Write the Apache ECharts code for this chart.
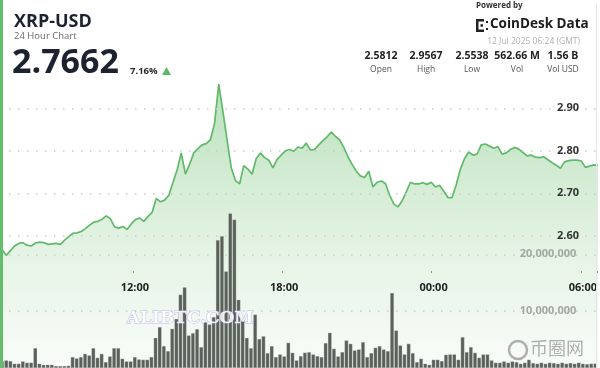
<!DOCTYPE html>
<html>
<head>
<meta charset="utf-8">
<script src="https://cdn.jsdelivr.net/npm/echarts@6/dist/echarts.min.js"></script>
<style>
html,body{margin:0;padding:0;background:#fff;}
#chart{width:600px;height:368px;}
</style>
</head>
<body>
<div id="chart"></div>
<script>
// ---- data ----
var categories = [];
(function(){ var h=6,m=40; for(var i=0;i<144;i++){ categories.push((h<10?'0':'')+h+':'+(m<10?'0':'')+m); m+=10; if(m>=60){m-=60;h=(h+1)%24;} } })();
var timeTicks = ['12:00','18:00','00:00','06:00'];
var priceTicks = ['2.60','2.70','2.80','2.90'];
var volumeTicks = ['10,000,000','20,000,000'];

var price = [
2.567,2.554,2.565,2.576,2.582,2.584,2.578,2.576,2.583,2.585,
2.584,2.580,2.581,2.582,2.580,2.590,2.598,2.606,2.607,2.610,
2.617,2.625,2.632,2.634,2.639,2.647,2.640,2.621,2.618,2.622,
2.615,2.628,2.638,2.642,2.634,2.645,2.655,2.688,2.680,2.684,
2.695,2.725,2.755,2.795,2.745,2.768,2.795,2.805,2.814,2.817,
2.826,2.865,2.957,2.893,2.825,2.760,2.730,2.722,2.765,2.757,
2.745,2.782,2.795,2.784,2.778,2.760,2.780,2.790,2.800,2.803,
2.799,2.809,2.806,2.818,2.802,2.803,2.814,2.824,2.833,2.844,
2.834,2.826,2.808,2.786,2.768,2.752,2.741,2.737,2.752,2.715,
2.726,2.729,2.723,2.696,2.675,2.668,2.682,2.703,2.726,2.722,
2.722,2.725,2.721,2.726,2.715,2.719,2.705,2.690,2.690,2.720,
2.757,2.782,2.797,2.790,2.792,2.814,2.816,2.811,2.806,2.810,
2.792,2.795,2.803,2.808,2.804,2.796,2.788,2.790,2.785,2.784,
2.786,2.779,2.772,2.766,2.759,2.774,2.777,2.778,2.778,2.776,
2.761,2.764,2.767,2.766
];

// volume in millions
var volumeM = [
1.23,1.35,1.23,0.76,0.76,1.17,0.94,0.94,3.5,0.76,0.58,0.58,0.58,0.35,0.35,0.35,0.41,1.93,1.7,1.93,2.5,2.22,3.5,1.81,2.5,1.05,2.05,3.5,3.5,1.64,1.17,1.17,1.93,1.52,1.46,1.46,
1.93,5.3,7.2,3.86,2.98,6.9,8.65,12.9,14.2,5.73,6.14,6.84,3.68,8.07,7.66,8.95,22.5,23.2,17.0,27.2,26.1,12.0,8.95,5.3,3.5,9.4,5.1,5.6,2.63,3.86,1.93,2.4,2.05,4.44,2.69,1.35,
2.1,2.7,2.8,2.4,2.1,1.93,4.39,6.2,3.4,2.05,2.8,4.85,4.27,3.1,3.27,4.56,1.93,2.63,3.57,3.86,3.27,2.98,13.2,6.6,3.98,2.4,4.27,2.63,1.05,1.64,0.76,0.58,1.46,1.46,1.23,2.34,
2.4,2.4,1.46,5.44,2.8,3.68,2.69,1.81,2.4,2.4,1.35,0.94,0.94,1.17,0.94,1.17,1.05,0.76,0.94,1.46,0.88,0.76,0.94,0.76,0.94,0.88,0.76,0.94,0.76,0.88,0.76,0.94,0.76,0.7,0.76,0.8
];
var volume = volumeM.map(function(v){ return Math.round(v*1e6); });

var header = { pair:'XRP-USD', sub:'24 Hour Chart', last:'2.7662', change:'7.16%' };
var statValues = ['2.5812','2.9567','2.5538','562.66 M','1.56 B'];
var statNames = ['Open','High','Low','Vol','Vol USD'];
var stamp = '12 Jul 2025 06:24 (GMT)';

// ---- chart ----
var FONT = '"Open Sans", "Noto Sans", sans-serif';
var chart = echarts.init(document.getElementById('chart'), null, {renderer:'canvas'});
var gridC = '#c9cdc9';

var statX = [381, 426, 472, 517, 563];
var graphics = [
  {type:'rect', left:0, top:0, shape:{width:3, height:368}, style:{fill:'#63bd6b'}, z:100},
  {type:'rect', left:596, top:4, shape:{width:1, height:364}, style:{fill:'#e6e6e6'}, z:100},
  {type:'text', left:14, top:13, style:{text:header.pair, font:'bold 18px '+FONT, fill:'#1c2230'}, z:100},
  {type:'text', left:14, top:31, style:{text:header.sub, font:'9.5px '+FONT, fill:'#6a6a6a'}, z:100},
  {type:'text', left:12, top:46, style:{text:header.last, font:'bold 34px '+FONT, fill:'#1c2230'}, z:100},
  {type:'text', left:130, top:66, style:{text:header.change, font:'bold 9.5px '+FONT, fill:'#2a2a2a'}, z:100},
  {type:'polygon', shape:{points:[[162,75],[171,75],[166.5,67]]}, style:{fill:'#5cb862'}, z:100},
  {type:'text', left:476, top:2, style:{text:'Powered by', font:'bold 8px '+FONT, fill:'#333'}, z:100},
  {type:'rect', left:476, top:19, shape:{width:2.5, height:13}, style:{fill:'#222'}, z:100},
  {type:'rect', left:476, top:19, shape:{width:8, height:2.5}, style:{fill:'#222'}, z:100},
  {type:'rect', left:476, top:29.5, shape:{width:8, height:2.5}, style:{fill:'#222'}, z:100},
  {type:'rect', left:480.5, top:24.2, shape:{width:2.5, height:2.5}, style:{fill:'#222'}, z:100},
  {type:'rect', left:486, top:21, shape:{width:2, height:2}, style:{fill:'#222'}, z:100},
  {type:'rect', left:486, top:28, shape:{width:2, height:2}, style:{fill:'#222'}, z:100},
  {type:'text', left:490, top:17, style:{text:'CoinDesk Data', font:'bold 13.5px '+FONT, fill:'#1c1c1c'}, z:100},
  {type:'text', right:20, top:37, style:{text:stamp, font:'8.5px '+FONT, fill:'#b0b0b0', align:'right'}, z:100}
];
for (var k=0;k<statValues.length;k++){
  graphics.push({type:'text', x:statX[k], y:51, style:{text:statValues[k], font:'bold 10.5px '+FONT, fill:'#222', align:'center'}, z:100});
  graphics.push({type:'text', x:statX[k], y:65, style:{text:statNames[k], font:'8.5px '+FONT, fill:'#555', align:'center'}, z:100});
}
graphics.push({type:'text', x:190, y:310, style:{text:'ALIBTC.COM', font:'bold 17px "DejaVu Serif", serif', fill:'rgba(255,255,255,0.85)', stroke:'rgba(190,185,230,0.9)', lineWidth:1, align:'center'}, z:50});
graphics.push({type:'text', x:557, y:339, style:{text:'币圈网', font:'18px "Noto Sans CJK SC", sans-serif', fill:'rgba(150,150,150,0.75)', align:'center'}, z:50});
graphics.push({type:'circle', shape:{cx:518, cy:350, r:9}, style:{fill:'none', stroke:'rgba(150,150,150,0.75)', lineWidth:2.5}, z:50});

var option = {
  animation:false,
  backgroundColor:'#ffffff',
  graphic: graphics,
  grid:[
    {left:0, width:604.8, top:65.8, bottom:4.7},
    {left:0, width:604.8, top:140.6, bottom:-1}
  ],
  xAxis:[
    {gridIndex:0, type:'category', data:categories, boundaryGap:true, show:false},
    {gridIndex:1, type:'category', data:categories, boundaryGap:true, offset:-97, z:5,
     axisLine:{show:false},
     axisTick:{show:true, length:2, lineStyle:{color:'#999', width:1},
       interval:function(i, v){ return timeTicks.indexOf(v)>=0; }},
     axisLabel:{margin:11, fontFamily:FONT, fontSize:11, fontWeight:'bold', color:'#222',
       interval:function(i, v){ return timeTicks.indexOf(v)>=0; }},
     splitLine:{show:false}}
  ],
  yAxis:[
    {gridIndex:0, type:'value', position:'right', min:2.3, max:3.0, interval:0.1, z:5,
     axisLine:{show:false}, axisTick:{show:false},
     axisLabel:{inside:true, margin:21, fontFamily:FONT, fontSize:11, fontWeight:'bold', color:'#333',
       formatter:function(v){ var s=v.toFixed(2); return priceTicks.indexOf(s)>=0 ? s : ''; }},
     splitLine:{show:true, lineStyle:{type:[1.5,7.5], width:1.5,
       color:['rgba(0,0,0,0)','rgba(0,0,0,0)','rgba(0,0,0,0)',gridC,gridC,gridC,gridC,'rgba(0,0,0,0)']}}},
    {gridIndex:1, type:'value', position:'right', min:0, max:40000000, interval:10000000, z:5,
     axisLine:{show:false}, axisTick:{show:false},
     axisLabel:{inside:true, margin:21, fontFamily:FONT, fontSize:11, fontWeight:'bold', color:'#a3a8a3',
       formatter:function(v){ var s=v.toLocaleString('en-US'); return volumeTicks.indexOf(s)>=0 ? s : ''; }},
     splitLine:{show:true, lineStyle:{type:[1.5,7.5], width:1.5,
       color:['rgba(0,0,0,0)',gridC,gridC,'rgba(0,0,0,0)','rgba(0,0,0,0)']}}}
  ],
  series:[
    {type:'line', xAxisIndex:0, yAxisIndex:0, data:price, symbol:'none', smooth:false, z:2,
     lineStyle:{color:'#62b96b', width:1.7},
     areaStyle:{origin:'start', color:new echarts.graphic.LinearGradient(0,0,0,1,[
       {offset:0, color:'#98d39c'},
       {offset:0.3, color:'#bde2be'},
       {offset:0.65, color:'#def0de'},
       {offset:1, color:'#f4faf4'}
     ])}},
    {type:'bar', xAxisIndex:1, yAxisIndex:1, data:volume, barCategoryGap:'10%', z:6,
     itemStyle:{color:'#5a615a', borderColor:'#d8e0d8', borderWidth:0.3}}
  ]
};
chart.setOption(option);
</script>
</body>
</html>
